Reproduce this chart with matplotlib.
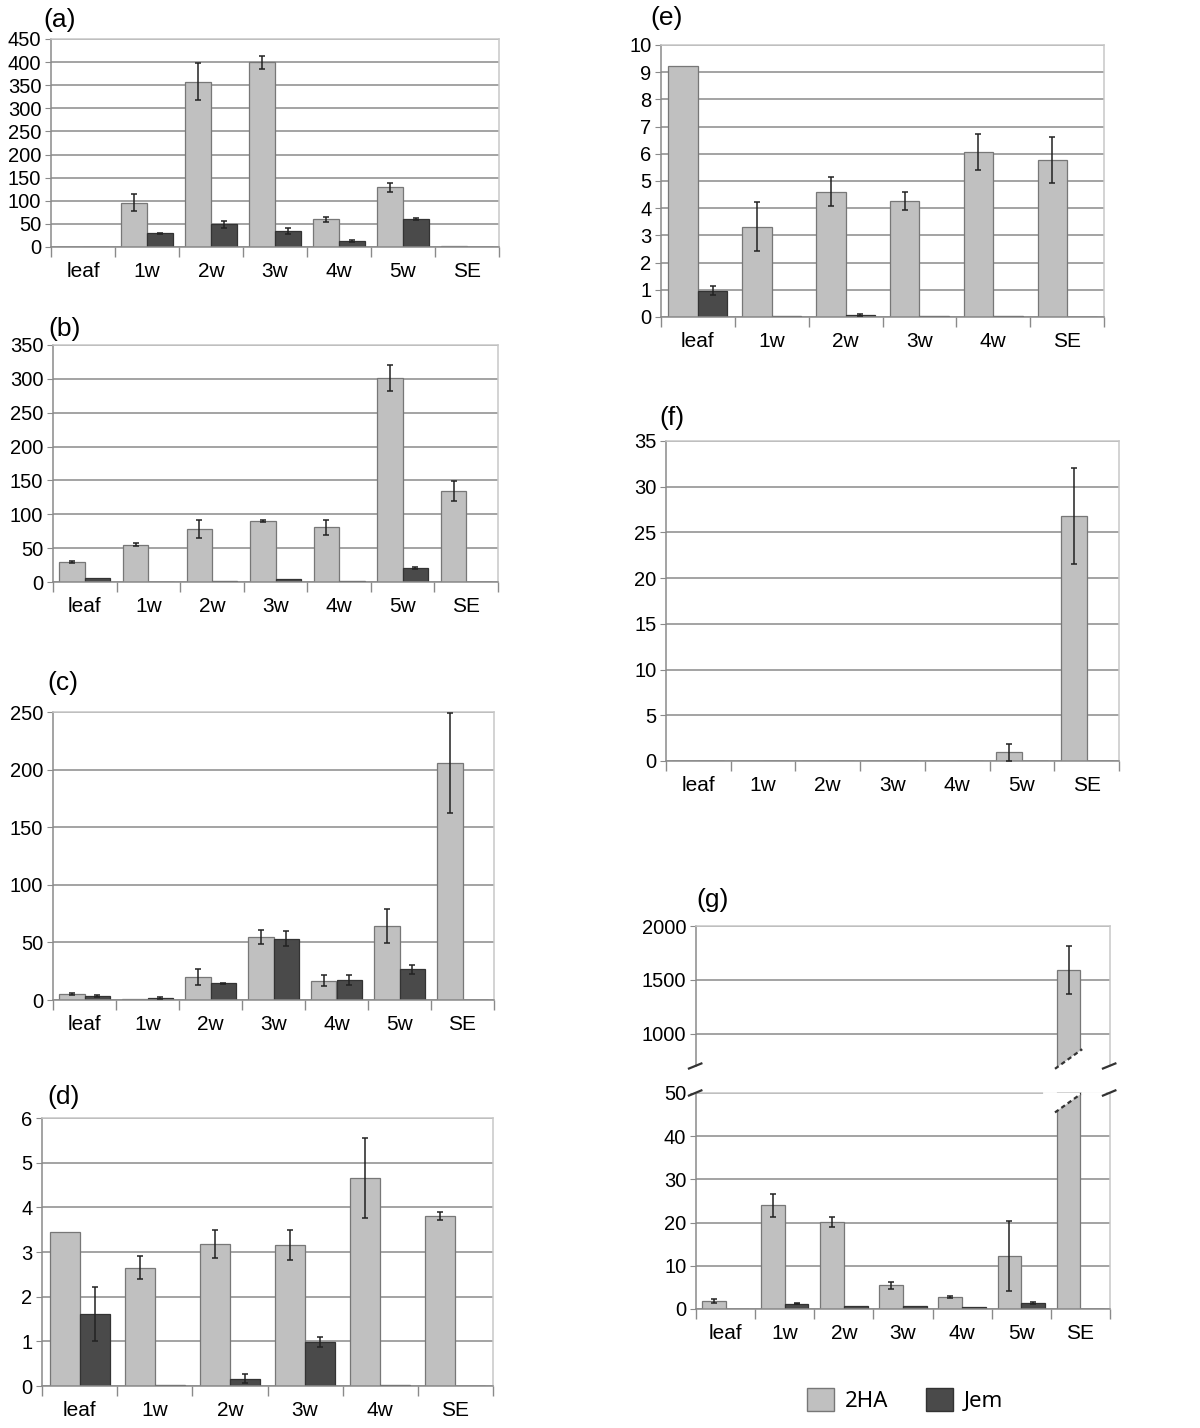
import numpy as np
import matplotlib.pyplot as plt
from matplotlib.patches import Patch, Polygon

plt.rcParams['font.family'] = ['Liberation Sans', 'DejaVu Sans']

cats7 = ['leaf', '1w', '2w', '3w', '4w', '5w', 'SE']
cats6 = ['leaf', '1w', '2w', '3w', '4w', 'SE']

# (a)
a_2ha = [0, 96, 358, 400, 60, 129, 1.5]
a_2ha_err = [0, 19, 41, 14, 5, 9, 0]
a_jem = [0, 29.5, 49, 34.5, 13, 60, 0]
a_jem_err = [0, 1, 8, 6, 2, 2, 0]

# (b)
b_2ha = [30, 55, 78.5, 90, 80.5, 301, 134]
b_2ha_err = [1.5, 2, 13, 2, 11.5, 19, 14.5]
b_jem = [6.4, 0.5, 1.5, 4.5, 1.5, 20.7, 0]
b_jem_err = [0, 0, 0, 0, 0, 2, 0]

# (c)
c_2ha = [5.5, 1.2, 19.7, 54.5, 16.8, 64.4, 206]
c_2ha_err = [1, 0, 7, 6, 5, 15, 43.5]
c_jem = [3.2, 1.7, 14.5, 53, 17.4, 26.7, 0]
c_jem_err = [0.8, 0.5, 0.5, 6.5, 4.5, 4, 0]

# (d)
d_2ha = [3.445, 2.645, 3.176, 3.154, 4.66, 3.81]
d_2ha_err = [0, 0.26, 0.31, 0.33, 0.89, 0.09]
d_jem = [1.61, 0.02, 0.164, 0.986, 0.02, 0]
d_jem_err = [0.6, 0, 0.1, 0.11, 0, 0]

# (e)
e_2ha = [9.215, 3.325, 4.6, 4.26, 6.07, 5.78]
e_2ha_err = [0, 0.9, 0.53, 0.32, 0.67, 0.84]
e_jem = [0.97, 0.02, 0.086, 0.02, 0.02, 0]
e_jem_err = [0.16, 0, 0.04, 0, 0, 0]

# (f)
f_2ha = [0, 0, 0, 0, 0, 0.95, 26.8]
f_2ha_err = [0, 0, 0, 0, 0, 0.95, 5.25]
f_jem = [0, 0, 0, 0, 0, 0, 0]
f_jem_err = [0, 0, 0, 0, 0, 0, 0]

# (g)
g_2ha = [1.77, 24.0, 20.2, 5.48, 2.7, 12.27, 1594]
g_2ha_err = [0.45, 2.65, 1.2, 0.87, 0.25, 8.2, 223]
g_jem = [0.1, 1.23, 0.7, 0.7, 0.55, 1.4, 0]
g_jem_err = [0, 0.1, 0, 0, 0, 0.15, 0]

LIGHT = '#c0c0c0'
DARK = '#4a4a4a'
GRID = '#8a8a8a'
FRAME = '#c8c8c8'
W, H = 1200, 1428


def rect(l, r, t, b):
    return [l / W, 1 - b / H, (r - l) / W, (b - t) / H]


def bars(ax, cats, light, light_err, dark, dark_err):
    x = np.arange(len(cats))
    ax.bar(x - 0.2, light, 0.4, color=LIGHT, edgecolor='#777777', linewidth=0.9, zorder=2)
    ax.bar(x + 0.2, dark, 0.4, color=DARK, edgecolor='#333333', linewidth=0.9, zorder=2)
    for off, v, e in [(-0.2, light, light_err), (0.2, dark, dark_err)]:
        v = np.array(v, float)
        e = np.array(e, float)
        m = e > 0
        ax.errorbar(x[m] + off, v[m], yerr=e[m], fmt='none', ecolor='#222222',
                    elinewidth=1.1, capsize=2.5, capthick=1.1, zorder=3)


def style(ax, cats, ymax, step, xlabels=True):
    n = len(cats)
    ax.set_xlim(-0.5, n - 0.5)
    ax.set_ylim(0, ymax)
    ax.set_yticks(np.arange(0, ymax + step / 2, step))
    ax.set_axisbelow(True)
    ax.yaxis.grid(True, color=GRID, linewidth=1.1)
    ax.set_xticks(np.arange(n))
    ax.set_xticklabels(cats if xlabels else [])
    ax.set_xticks(np.arange(n + 1) - 0.5, minor=True)
    ax.tick_params(axis='x', which='major', length=0, labelsize=15, pad=11)
    ax.tick_params(axis='x', which='minor', length=7, color=GRID, width=1)
    ax.tick_params(axis='y', length=4, color=GRID, labelsize=14.5, pad=3)
    ax.spines['top'].set_color(FRAME)
    ax.spines['right'].set_color(FRAME)
    ax.spines['left'].set_color(GRID)
    ax.spines['bottom'].set_color(GRID)
    for s in ax.spines.values():
        s.set_linewidth(1.1)


fig = plt.figure(figsize=(12, 14.28), dpi=100)

panels = [
    ('(a)', rect(51, 499, 39, 247), cats7, a_2ha, a_2ha_err, a_jem, a_jem_err, 450, 50, (43, 20)),
    ('(b)', rect(53, 498, 345, 582), cats7, b_2ha, b_2ha_err, b_jem, b_jem_err, 350, 50, (48, 329)),
    ('(c)', rect(53, 494, 712, 1000), cats7, c_2ha, c_2ha_err, c_jem, c_jem_err, 250, 50, (47, 683)),
    ('(d)', rect(42, 493, 1118, 1386), cats6, d_2ha, d_2ha_err, d_jem, d_jem_err, 6, 1, (47, 1097)),
    ('(e)', rect(661, 1104, 45, 317), cats6, e_2ha, e_2ha_err, e_jem, e_jem_err, 10, 1, (650, 18)),
    ('(f)', rect(666, 1119, 441, 761), cats7, f_2ha, f_2ha_err, f_jem, f_jem_err, 35, 5, (659, 418)),
]

for lab, r, cats, l, le, d, de, ymax, step, (tx, ty) in panels:
    ax = fig.add_axes(r)
    bars(ax, cats, l, le, d, de)
    style(ax, cats, ymax, step)
    fig.text(tx / W, 1 - ty / H, lab, fontsize=19, ha='left', va='center')

# (g) broken axis
ax_up = fig.add_axes(rect(696, 1110, 926, 1066))
ax_lo = fig.add_axes(rect(696, 1110, 1093, 1309))
for ax in (ax_up, ax_lo):
    bars(ax, cats7, g_2ha, g_2ha_err, g_jem, g_jem_err)
style(ax_lo, cats7, 50, 10)
style(ax_up, cats7, 2000, 500, xlabels=False)
ax_up.set_ylim(700, 2000)
ax_up.set_yticks([1000, 1500, 2000])
ax_up.spines['bottom'].set_visible(False)
ax_up.tick_params(axis='x', which='both', length=0)
fig.text(696 / W, 1 - 900 / H, '(g)', fontsize=19, ha='left', va='center')

# slanted cut on the SE bar
xb0, xb1 = 5.57, 6.03
tu = ax_up.get_xaxis_transform()
ax_up.add_patch(Polygon([(xb0, -0.02), (xb1, 0.12), (xb1, -0.02)], closed=True,
                        facecolor='white', edgecolor='none', transform=tu, zorder=4, clip_on=False))
ax_up.plot([xb0, xb1], [-0.02, 0.12], transform=tu, color='#333333', ls=(0, (2, 1.5)),
           lw=1.6, zorder=5, clip_on=False)
tl = ax_lo.get_xaxis_transform()
ax_lo.add_patch(Polygon([(xb0, 0.91), (xb1, 1.0), (xb0, 1.0)], closed=True,
                        facecolor='white', edgecolor='none', transform=tl, zorder=4))
ax_lo.plot([xb0, xb1], [0.91, 1.0], transform=tl, color='#333333', ls=(0, (2, 1.5)),
           lw=1.6, zorder=5, clip_on=False)
ax_lo.plot([5.38, xb0], [1.0, 1.0], transform=tl, color='white', lw=2, zorder=6, clip_on=False)
ax_lo.plot([xb1, 6.4], [1.0, 1.0], transform=tl, color='white', lw=2, zorder=6, clip_on=False)

# break marks
for ax, dy in ((ax_up, 0.018), (ax_lo, 0.012)):
    y = 0.0 if ax is ax_up else 1.0
    for x in (0.0, 1.0):
        ax.plot([x - 0.017, x + 0.013], [y - dy, y + dy], transform=ax.transAxes,
                color='#333333', lw=1.6, clip_on=False, zorder=7)

handles = [Patch(facecolor=LIGHT, edgecolor='#777777', label='2HA'),
           Patch(facecolor=DARK, edgecolor='#333333', label='Jem')]
fig.legend(handles=handles, loc='center', bbox_to_anchor=(905 / W, 1 - 1400 / H), ncol=2,
           frameon=False, handlelength=1.2, handleheight=1.2,
           handletextpad=0.5, columnspacing=1.7, prop={'family': ['Noto Sans', 'DejaVu Sans'], 'size': 16})

fig.savefig('out.png', dpi=100, facecolor='white')
